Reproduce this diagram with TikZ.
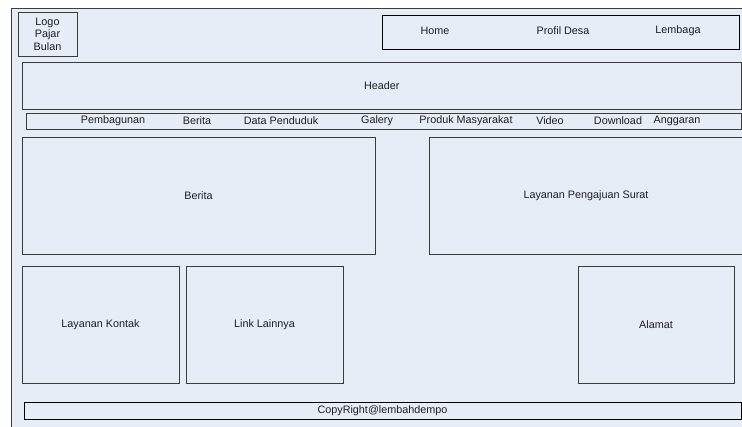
\documentclass[tikz,border=0pt]{standalone}
\usepackage{fontspec}
\setmainfont{Liberation Sans}
\definecolor{bgfill}{HTML}{E7EDF7}
\definecolor{edge}{HTML}{3C3C3C}
\definecolor{txt}{HTML}{1E1E1E}
\begin{document}
\begin{tikzpicture}[x=1pt,y=-1pt,
  box/.style={draw=edge,line width=0.9pt,fill=bgfill,rectangle,inner sep=0pt,outer sep=0pt,
    font=\fontsize{10.8}{12.6}\selectfont,text=txt,align=center},
  lbl/.style={inner sep=0pt,font=\fontsize{10.8}{12.6}\selectfont,text=txt}]
\useasboundingbox (0,0) rectangle (742,426);
\clip (0,0) rectangle (742,426);
\fill[white] (0,0) rectangle (742,426);
% outer frame
\draw[draw=edge,line width=0.9pt,fill=bgfill] (11,8) rectangle (770,450);
% boxes: center, width, height
\node[box,minimum width=59pt,minimum height=44pt] (logo) at (47.5,34) {Logo\\Pajar\\Bulan};
\node[box,draw=black,line width=1pt,minimum width=357pt,minimum height=34pt] (nav) at (560.5,32) {};
\node[box,minimum width=719.5pt,minimum height=47pt] (header) at (381.75,85.5) {Header};
\node[box,minimum width=715.5pt,minimum height=16pt] (menu) at (383.75,121) {};
\node[box,minimum width=353pt,minimum height=117pt] (berita) at (198.5,195.5) {Berita};
\node[box,minimum width=314pt,minimum height=117pt] (layanan) at (586,195.5) {Layanan Pengajuan Surat};
\node[box,minimum width=157pt,minimum height=117pt] (kontak) at (100.5,324.5) {Layanan Kontak};
\node[box,minimum width=157pt,minimum height=117pt] (link) at (264.5,324.5) {Link Lainnya};
\node[box,minimum width=156pt,minimum height=117pt] (alamat) at (656,324.5) {Alamat};
\node[box,draw=black,minimum width=717pt,minimum height=17pt] (footer) at (382.5,410.5) {CopyRight@lembahdempo};
% nav labels
\node[lbl] (home) at (435,31) {Home};
\node[lbl] (profil) at (563,31) {Profil Desa};
\node[lbl] (lembaga) at (678,31) {Lembaga};
% menu labels
\node[lbl] (m1) at (113,121) {Pembagunan};
\node[lbl] (m2) at (197,121) {Berita};
\node[lbl] (m3) at (281,121) {Data Penduduk};
\node[lbl] (m4) at (377,121) {Galery};
\node[lbl] (m5) at (466,121) {Produk Masyarakat};
\node[lbl] (m6) at (550,121) {Video};
\node[lbl] (m7) at (618,121) {Download};
\node[lbl] (m8) at (677,121) {Anggaran};
\end{tikzpicture}
\end{document}
